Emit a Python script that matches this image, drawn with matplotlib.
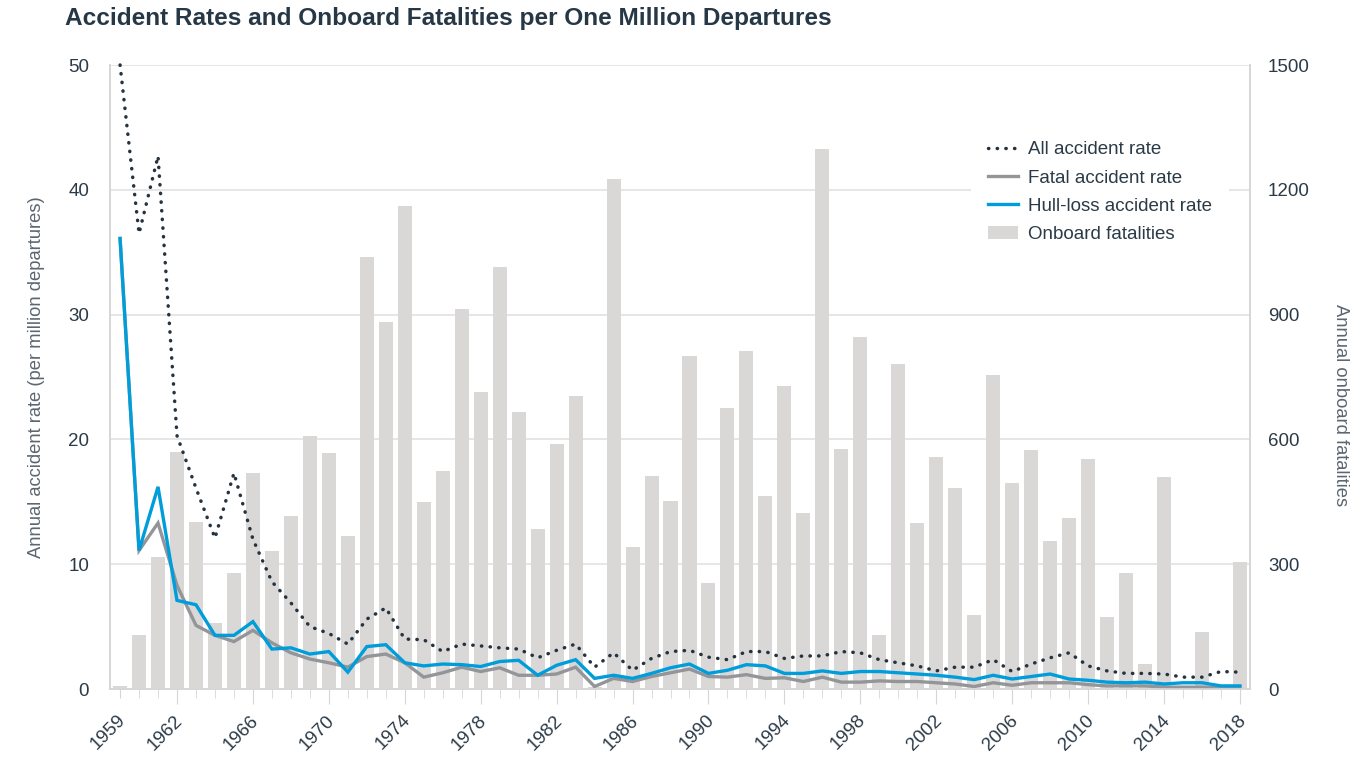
import matplotlib
matplotlib.use("Agg")
import matplotlib.pyplot as plt
import matplotlib.transforms as mtransforms
from matplotlib.patches import Patch
from matplotlib.lines import Line2D
import numpy as np

plt.rcParams['font.family'] = ['Liberation Sans', 'DejaVu Sans']

years = list(range(1959, 2019))

# accident rates per million departures (left axis)
all_rate = [50.0, 36.5, 42.7, 20.3, 16.1, 12.1, 17.3, 12.0, 8.6, 6.9,
            5.0, 4.45, 3.6, 5.6, 6.5, 4.0, 3.95, 3.0, 3.6, 3.45,
            3.3, 3.2, 2.5, 3.1, 3.6, 1.75, 2.9, 1.5, 2.45, 3.0,
            3.1, 2.55, 2.35, 3.0, 3.0, 2.45, 2.65, 2.65, 3.0, 2.9,
            2.35, 2.1, 1.85, 1.45, 1.75, 1.75, 2.35, 1.4, 2.0, 2.5,
            2.9, 1.85, 1.45, 1.25, 1.25, 1.2, 0.95, 0.95, 1.4, 1.35]
fatal_rate = [36.1, 11.1, 13.3, 8.3, 5.1, 4.3, 3.8, 4.7, 3.7, 2.9,
              2.4, 2.1, 1.75, 2.6, 2.8, 2.1, 0.95, 1.3, 1.75, 1.4,
              1.7, 1.1, 1.1, 1.2, 1.75, 0.2, 0.85, 0.6, 1.0, 1.3,
              1.6, 1.0, 0.95, 1.15, 0.85, 0.9, 0.6, 0.95, 0.55, 0.55,
              0.65, 0.6, 0.6, 0.5, 0.4, 0.2, 0.5, 0.3, 0.5, 0.5,
              0.5, 0.35, 0.25, 0.25, 0.25, 0.15, 0.15, 0.15, 0.12, 0.15]
hull_rate = [36.1, 11.1, 16.2, 7.1, 6.75, 4.3, 4.3, 5.4, 3.2, 3.3,
             2.8, 3.0, 1.35, 3.4, 3.55, 2.1, 1.85, 2.0, 1.95, 1.8,
             2.2, 2.3, 1.1, 1.9, 2.35, 0.85, 1.1, 0.85, 1.25, 1.7,
             2.0, 1.25, 1.5, 1.95, 1.85, 1.25, 1.25, 1.45, 1.25, 1.4,
             1.4, 1.3, 1.2, 1.1, 0.95, 0.75, 1.1, 0.8, 1.0, 1.2,
             0.8, 0.7, 0.55, 0.5, 0.55, 0.4, 0.5, 0.5, 0.25, 0.25]

# onboard fatalities (right axis)
fatalities = [8, 130, 317, 570, 401, 158, 280, 519, 331, 416,
              608, 567, 367, 1038, 882, 1161, 449, 523, 913, 714,
              1014, 666, 385, 589, 704, 5, 1226, 341, 512, 451,
              801, 254, 675, 813, 464, 728, 423, 1298, 577, 847,
              130, 782, 399, 558, 483, 177, 755, 495, 574, 355,
              411, 553, 173, 278, 60, 509, 0, 137, 0, 305]

label_years = [1959] + list(range(1962, 2019, 4))

TEXT = '#2b3a47'
LABEL = '#5b6670'
GRID = '#e2e2e2'
SPINE = '#d6d6d6'
BAR = '#d9d8d7'
DOTS = '#253340'
GRAY = '#939598'
BLUE = '#009ddb'

fig = plt.figure(figsize=(13.53, 7.59), dpi=100)
ax2 = fig.add_axes([110 / 1353, 1 - 689 / 759, 1140 / 1353, 624 / 759])
ax = ax2.twinx()
ax.set_zorder(ax2.get_zorder() + 1)
ax.patch.set_visible(False)

# bars on the right axis
ax2.bar(years, fatalities, width=0.74, color=BAR, zorder=2)
ax2.set_ylim(0, 1500)
ax2.set_yticks(range(0, 1501, 300))
ax2.set_axisbelow(True)
ax2.yaxis.grid(True, color=GRID, lw=1.2)
ax2.yaxis.tick_right()
ax2.yaxis.set_label_position('right')
ax2.tick_params(axis='y', length=0, pad=13, labelsize=13.5, labelcolor=TEXT)

# lines on the left axis
ax.plot(years, fatal_rate, color=GRAY, lw=2.4, solid_joinstyle='miter')
ax.plot(years, hull_rate, color=BLUE, lw=2.4, solid_joinstyle='miter')
ax.plot(years, all_rate, color=DOTS, lw=2.5, linestyle=(0, (0.1, 2.4)),
        dash_capstyle='round', clip_on=False)
ax.set_ylim(0, 50)
ax.set_yticks(range(0, 51, 10))
ax.yaxis.tick_left()
ax.yaxis.set_label_position('left')
ax.tick_params(axis='y', length=0, pad=15, labelsize=13.5, labelcolor=TEXT)
ax.set_ylabel('Annual accident rate (per million departures)',
              fontsize=13.2, color=LABEL, labelpad=17)

ax2.set_xlim(1958.47, 2018.53)
ax2.set_xticks(label_years)
ax2.set_xticks(years, minor=True)
ax2.set_xticklabels([str(y) for y in label_years], rotation=45, ha='right',
                    va='center', rotation_mode='anchor', fontsize=13.5, color=TEXT)
ax2.tick_params(axis='x', which='major', length=11, color=SPINE, pad=4)
ax2.tick_params(axis='x', which='minor', length=6.5, color=SPINE)
ax2.xaxis.get_major_ticks()[0].tick1line.set_markersize(6.5)
offset = mtransforms.ScaledTranslation(3 / 100, -8 / 100, fig.dpi_scale_trans)
for lab in ax2.get_xticklabels():
    lab.set_transform(lab.get_transform() + offset)

for a in (ax, ax2):
    a.spines['top'].set_visible(False)
    for s in ('left', 'right', 'bottom'):
        a.spines[s].set_color(SPINE)
        a.spines[s].set_linewidth(1.2)

handles = [
    Line2D([], [], color=DOTS, lw=2.5, linestyle=(0, (0.1, 2.4)), dash_capstyle='round'),
    Line2D([], [], color=GRAY, lw=2.4),
    Line2D([], [], color=BLUE, lw=2.4),
    Patch(facecolor=BAR, edgecolor='none'),
]
labels = ['All accident rate', 'Fatal accident rate', 'Hull-loss accident rate',
          'Onboard fatalities']
leg = ax.legend(handles, labels, loc='upper left', bbox_to_anchor=(0.747, 0.92),
                frameon=True, fancybox=False, facecolor='white', edgecolor='none',
                framealpha=1, fontsize=13.5, handlelength=1.6, handletextpad=0.53,
                labelspacing=0.6, borderpad=0.9)
for t in leg.get_texts():
    t.set_color(TEXT)

fig.text(65 / 1353, 1 - 18 / 759, 'Accident Rates and Onboard Fatalities per One Million Departures',
         fontsize=17.6, fontweight='bold', color='#263746', ha='left', va='center')
fig.text(1341 / 1353, 1 - 405 / 759, 'Annual onboard fatalities', rotation=270,
         fontsize=13.2, color=LABEL, ha='center', va='center')

fig.savefig('out.png', dpi=100)
